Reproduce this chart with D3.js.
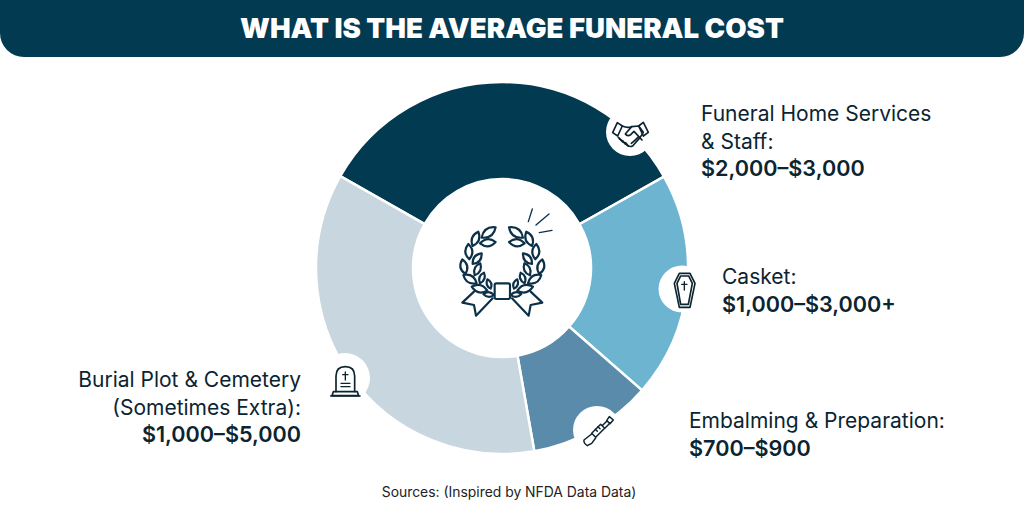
<!DOCTYPE html>
<html><head><meta charset="utf-8">
<script src="https://cdn.jsdelivr.net/npm/d3@7/dist/d3.min.js"></script>
<style>html,body{margin:0;padding:0;background:#fff;overflow:hidden}svg{display:block}</style>
</head><body><svg id="c" width="1024" height="524"></svg>
<script>
const title = "WHAT IS THE AVERAGE FUNERAL COST";
const source = "Sources: (Inspired by NFDA Data Data)";
const categories = ["Funeral Home Services & Staff","Casket","Embalming & Preparation","Burial Plot & Cemetery"];
const shares = [33.6, 19.6, 10.8, 36.0];
const colors = ["#023a52","#6cb4d0","#5a8bab","#c8d6df"];
const labelLines = [
  [["Funeral Home Services",400],["& Staff:",400],["$2,000–$3,000",600]],
  [["Casket:",400],["$1,000–$3,000+",600]],
  [["Embalming & Preparation:",400],["$700–$900",600]],
  [["Burial Plot & Cemetery",400],["(Sometimes Extra):",400],["$1,000–$5,000",600]]
];
const labelX = [701,722,689,301];
const labelY = [121,284,428,387];
const labelAnchor = ["start","start","start","end"];
const lineGap = 27.5;

const svg = d3.select("#c");
const FONT = "Inter, Roboto, sans-serif";
const ink = "#0b2430";

// header
svg.append("path").attr("fill","#023a52")
  .attr("d","M0,0H1024V33A24,24 0 0 1 1000,57H24A24,24 0 0 1 0,33Z");
svg.append("text").attr("x",512).attr("y",38).attr("text-anchor","middle")
  .attr("font-family","Inter, sans-serif").attr("font-weight",900).attr("font-size",27.6).attr("fill","#fff").text(title);

// donut
const cx=502, cy=268, R=186, r=89;
const pie = d3.pie().sort(null).startAngle(-60.4*Math.PI/180).endAngle(299.6*Math.PI/180);
const arc = d3.arc().innerRadius(r).outerRadius(R);
const g = svg.append("g").attr("transform",`translate(${cx},${cy})`);
g.selectAll("path").data(pie(shares)).join("path")
  .attr("d",arc).attr("fill",(d,i)=>colors[i]).attr("stroke","#fff").attr("stroke-width",2.5);
g.append("circle").attr("r",r).attr("fill","#fff");

// icon badges
const badges=[[630,132,24],[682,289,23.5],[597,430,24],[345,378,25]];
svg.selectAll("circle.b").data(badges).join("circle").attr("class","b")
  .attr("cx",d=>d[0]).attr("cy",d=>d[1]).attr("r",d=>d[2]).attr("fill","#fff");

const iconStyle = s => s.attr("fill","none").attr("stroke",ink).attr("stroke-linejoin","round").attr("stroke-linecap","round");

// wreath (drawn in 3x zoom coordinates)
const wr = svg.append("g").attr("transform","translate(400,170) scale(0.3333)").call(iconStyle).attr("stroke-width",6.5).attr("stroke","#0c3047");
const leaves=[[245,203,287,172],[218,228,235,185],[240,220,287,216],[208,268,205,222],[218,282,245,250],[196,312,187,268],[224,316,241,280],[230,340,190,315],[240,340,252,308],[262,362,215,350],[272,356,262,328],[282,375,250,372]];
function leaf(a,b,c,d){const mx=(a+c)/2,my=(b+d)/2,nx=-(d-b)*0.46,ny=(c-a)*0.46;
  return `M${a},${b}Q${mx+nx},${my+ny} ${c},${d}Q${mx-nx},${my-ny} ${a},${b}Z`;}
[0,1].forEach(m=>{
  const h=wr.append("g").attr("transform",m?"translate(614,0) scale(-1,1)":null);
  leaves.forEach(l=>h.append("path").attr("d",leaf(...l)).attr("fill","#fff"));
  h.append("path").attr("d","M278,385L228,437L222,405L187,398L222,365");
});
wr.append("rect").attr("x",284).attr("y",340).attr("width",46).attr("height",47).attr("rx",5).attr("fill","#fff");
["M385,155L397,117","M408,165L447,132","M418,188L456,181"].forEach(d=>wr.append("path").attr("d",d).attr("stroke-width",4));

// handshake
const hs = svg.append("g").attr("transform","translate(590,90) scale(0.3333)").call(iconStyle).attr("stroke-width",5);
["M82,98L68,128L83,138L97,108Z","M160,97L175,127L160,138L146,108Z",
 "M97,108Q112,115 125,110L146,108L160,127L150,143L128,168Q118,172 110,165L85,142",
 "M125,110L106,132Q112,140 122,134L132,124L156,150",
 "M88,146L98,156M98,152L106,162M107,158L115,168",
 "M138,148L124,160M146,140L134,152"].forEach(d=>hs.append("path").attr("d",d));

// casket
const ca = svg.append("g").attr("transform","translate(640,250) scale(0.3333)").call(iconStyle).attr("stroke-width",5);
["M118,70H150L165,100L150,172H118L103,100Z","M122,78H146L157,100L145,163H122L111,100Z"].forEach(d=>ca.append("path").attr("d",d));
ca.append("path").attr("d","M133,95V120M125,103H141").attr("stroke-width",4);

// embalming instrument
const em = svg.append("g").attr("transform","translate(560,390) scale(0.3333)").call(iconStyle).attr("stroke-width",4.5);
["M148,80L160,90L150,101L140,92Z","M140,94L128,106","M148,101L136,113","M122,103L134,115L107,142L95,130Z",
 "M95,132L72,150Q70,160 82,167L95,160L107,144","M106,118L112,124M114,110L120,116"].forEach(d=>em.append("path").attr("d",d));

// headstone
const ts = svg.append("g").attr("transform","translate(310,340) scale(0.3333)").call(iconStyle).attr("stroke-width",5);
["M78,155V108Q78,80 106,80Q134,80 134,108V155","M70,155H142L146,167H66Z","M62,168H150"].forEach(d=>ts.append("path").attr("d",d));
ts.append("path").attr("d","M106,96V120M98,104H114M93,130H120M93,140H120").attr("stroke-width",4);

// labels
labelLines.forEach((lines,i)=>{
  const t=svg.append("text").attr("font-family",FONT).attr("fill",ink).attr("text-anchor",labelAnchor[i]);
  lines.forEach((l,j)=>t.append("tspan").attr("x",labelX[i]).attr("y",labelY[i]+j*lineGap).attr("font-weight",l[1]).attr("font-size",l[1]===600?21.6:21).text(l[0]));
});
svg.append("text").attr("x",509).attr("y",497).attr("text-anchor","middle").attr("font-family",FONT).attr("font-size",13.9).attr("fill","#222").text(source);
</script></body></html>
